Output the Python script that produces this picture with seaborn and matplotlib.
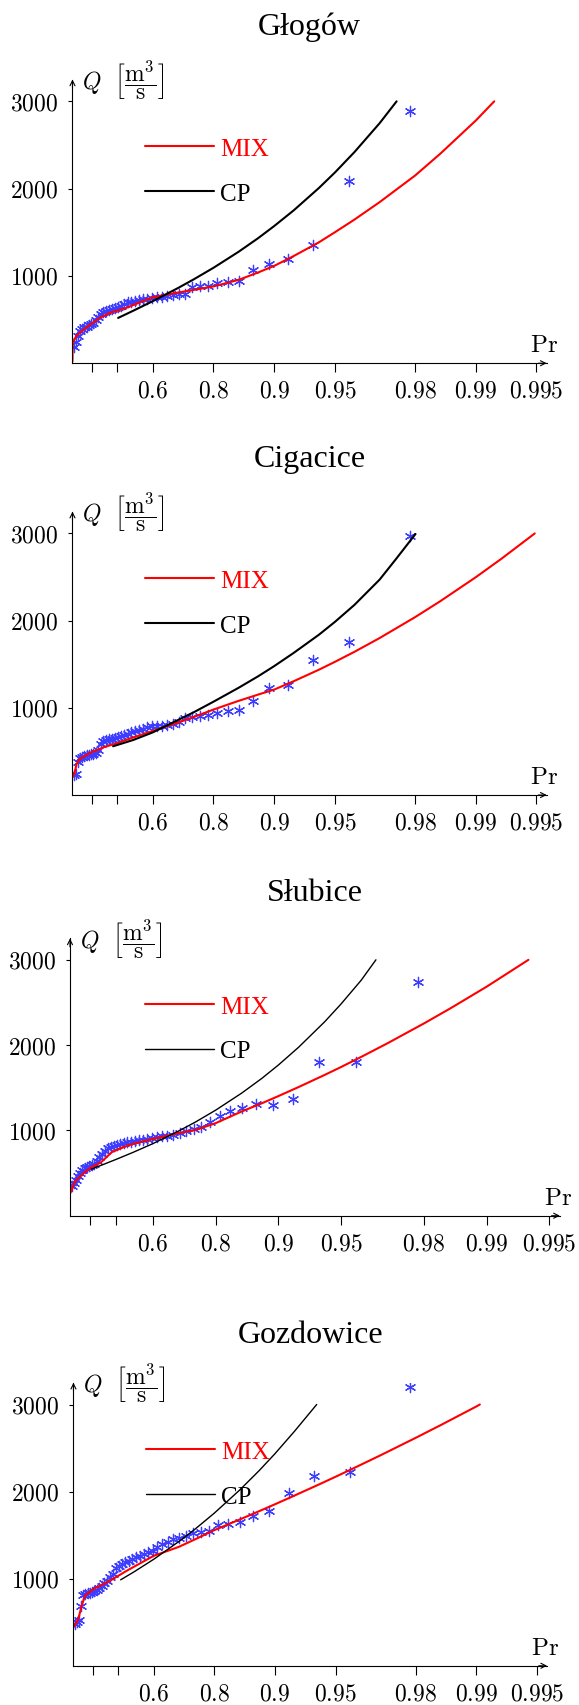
import numpy as np
import matplotlib
matplotlib.use("Agg")
import matplotlib.pyplot as plt
import seaborn as sns

stations = ["Głogów", "Cigacice", "Słubice", "Gozdowice"]

# plotting positions of the 46 observed annual maxima
obs_p = [0.0213, 0.0426, 0.0638, 0.0851, 0.1064, 0.1277, 0.1489, 0.1702, 0.1915, 0.2128,
         0.2340, 0.2553, 0.2766, 0.2979, 0.3191, 0.3404, 0.3617, 0.3830, 0.4043, 0.4255,
         0.4468, 0.4681, 0.4894, 0.5106, 0.5319, 0.5532, 0.5745, 0.5957, 0.6170, 0.6383,
         0.6596, 0.6809, 0.7021, 0.7234, 0.7447, 0.7660, 0.7872, 0.8085, 0.8298, 0.8511,
         0.8723, 0.8936, 0.9149, 0.9362, 0.9574, 0.9787]

glogow_q = [190, 240, 310, 370, 395, 410, 420, 435, 445, 460, 490, 527, 565, 584, 602, 610,
            622, 633, 649, 660, 679, 698, 706, 717, 725, 733, 740, 748, 756, 763, 771, 778,
            790, 793, 870, 881, 889, 916, 932, 946, 1068, 1141, 1199, 1355, 2090, 2890]
cigacice_q = [229, 245, 375, 420, 440, 450, 455, 460, 465, 470, 480, 520, 590, 620, 630, 640,
              648, 655, 665, 675, 690, 700, 718, 733, 746, 757, 776, 788, 790, 795, 803, 814,
              841, 880, 891, 910, 918, 940, 967, 979, 1082, 1224, 1265, 1552, 1751, 2974]
slubice_q = [352, 380, 420, 460, 505, 540, 560, 570, 580, 590, 610, 640, 690, 720, 760, 790,
             810, 822, 830, 840, 850, 860, 868, 878, 885, 893, 900, 910, 920, 930, 940, 950,
             969, 990, 1015, 1045, 1095, 1172, 1231, 1259, 1309, 1297, 1367, 1798, 1798, 2735]
gozdowice_q = [480, 500, 520, 690, 810, 820, 830, 840, 850, 861, 872, 889, 911, 949, 976, 1015,
               1053, 1118, 1148, 1168, 1187, 1206, 1225, 1244, 1263, 1282, 1302, 1321, 1359, 1397,
               1423, 1455, 1463, 1485, 1520, 1531, 1543, 1615, 1627, 1653, 1722, 1772, 1979, 2174,
               2227, 3196]

# fitted quantile curves (MIX = mixture model, CP = single distribution)
glogow_mix_p = [0, 0.002, 0.044, 0.148, 0.268, 0.347, 0.46, 0.6, 0.7, 0.75, 0.8, 0.85, 0.88,
                0.9, 0.92, 0.94, 0.95, 0.96, 0.97, 0.98, 0.985, 0.99, 0.9919]
glogow_mix_q = [20, 230, 316, 412, 520, 575, 635, 756, 810, 840, 880, 955, 1040, 1115, 1228,
                1385, 1500, 1645, 1845, 2150, 2400, 2780, 3000]
glogow_cp_p = [0.406, 0.5, 0.6, 0.7, 0.75, 0.8, 0.85, 0.88, 0.9, 0.92, 0.94, 0.95, 0.96, 0.97,
               0.9753]
glogow_cp_q = [519, 601, 711, 861, 962, 1093, 1277, 1433, 1571, 1751, 2007, 2184, 2418, 2749,
               3000]

cigacice_mix_p = [0, 0.026, 0.045, 0.080, 0.148, 0.2, 0.268, 0.3, 0.4, 0.5, 0.6, 0.7, 0.75,
                  0.8, 0.85, 0.88, 0.9, 0.92, 0.94, 0.95, 0.96, 0.97, 0.98, 0.985, 0.99,
                  0.9925, 0.9949]
cigacice_mix_q = [203, 260, 356, 413, 459, 495, 528, 548, 595, 660, 735, 830, 895, 980, 1080,
                  1152, 1209, 1305, 1437, 1527, 1642, 1800, 2040, 2223, 2498, 2706, 3000]
cigacice_cp_p = [0.371, 0.5, 0.6, 0.7, 0.75, 0.8, 0.85, 0.88, 0.9, 0.92, 0.94, 0.95, 0.96,
                 0.97, 0.975, 0.9801]
cigacice_cp_q = [559, 631, 718, 860, 950, 1070, 1230, 1362, 1478, 1630, 1838, 1985, 2180, 2470,
                 2700, 2994]

slubice_mix_p = [0, 0.008, 0.052, 0.15, 0.21, 0.29, 0.37, 0.453, 0.5, 0.6, 0.7, 0.75, 0.8,
                 0.85, 0.88, 0.9, 0.92, 0.94, 0.95, 0.96, 0.97, 0.98, 0.985, 0.99, 0.9937]
slubice_mix_q = [260, 274, 400, 509, 567, 626, 745, 810, 840, 899, 970, 1005, 1085, 1222, 1318,
                 1402, 1508, 1650, 1743, 1862, 2020, 2254, 2428, 2685, 3000]
slubice_cp_p = [0.21, 0.3, 0.4, 0.5, 0.6, 0.7, 0.75, 0.8, 0.85, 0.88, 0.9, 0.92, 0.94, 0.95,
                0.96, 0.966]
slubice_cp_q = [547, 596, 661, 741, 845, 995, 1098, 1237, 1437, 1610, 1766, 1974, 2272, 2482,
                2761, 3000]

gozdowice_mix_p = [0, 0.0535, 0.0897, 0.123, 0.202, 0.341, 0.456, 0.6, 0.7, 0.75, 0.8, 0.85,
                   0.88, 0.9, 0.92, 0.94, 0.95, 0.96, 0.97, 0.98, 0.985, 0.99, 0.9904]
gozdowice_mix_q = [441, 536, 689, 804, 880, 976, 1091, 1262, 1365, 1450, 1557, 1678, 1774, 1854,
                   1954, 2085, 2170, 2276, 2415, 2617, 2764, 2977, 3000]
gozdowice_cp_p = [0.417, 0.5, 0.6, 0.7, 0.75, 0.8, 0.85, 0.88, 0.9, 0.92, 0.938]
gozdowice_cp_q = [987, 1079, 1222, 1426, 1566, 1752, 2015, 2238, 2434, 2691, 3000]

x_ticks = [0.2, 0.4, 0.6, 0.8, 0.9, 0.95, 0.98, 0.99, 0.995]
x_ticklabels = ["", "", "$0.6$", "$0.8$", "$0.9$", "$0.95$", "$0.98$", "$0.99$", "$0.995$"]
y_ticks = [1000, 2000, 3000]
y_ticklabels = ["$1000$", "$2000$", "$3000$"]

obs_q = [glogow_q, cigacice_q, slubice_q, gozdowice_q]
mix_p = [glogow_mix_p, cigacice_mix_p, slubice_mix_p, gozdowice_mix_p]
mix_q = [glogow_mix_q, cigacice_mix_q, slubice_mix_q, gozdowice_mix_q]
cp_p = [glogow_cp_p, cigacice_cp_p, slubice_cp_p, gozdowice_cp_p]
cp_q = [glogow_cp_q, cigacice_cp_q, slubice_cp_q, gozdowice_cp_q]

# layout of the four panels (figure fractions) and small per-panel differences
rects = [[0.1252, 0.7865, 0.8190, 0.1663],
         [0.1252, 0.5334, 0.8190, 0.1661],
         [0.1209, 0.2868, 0.8461, 0.1625],
         [0.1269, 0.0230, 0.8180, 0.1659]]
title_pads = [33, 33, 27.5, 29.5]
cp_widths = [1.5, 1.5, 1.0, 1.0]
blue = "#3d3dff"

sns.set_style("white", rc={"axes.edgecolor": "black", "text.color": "black",
                           "xtick.color": "black", "ytick.color": "black",
                           "xtick.bottom": True, "ytick.left": True})
plt.rcParams["font.family"] = ["Liberation Serif", "DejaVu Serif"]
plt.rcParams["mathtext.fontset"] = "cm"


# probability axis: exponential paper, t = -ln(1 - p)
def fwd(p):
    return -np.log(np.clip(1 - np.asarray(p, dtype=float), 1e-9, None))


def inv(t):
    return 1 - np.exp(-np.asarray(t, dtype=float))


fig = plt.figure(figsize=(5.79, 17.06), dpi=100)

for k, name in enumerate(stations):
    ax = fig.add_axes(rects[k])
    sns.scatterplot(x=obs_p, y=obs_q[k], ax=ax, marker=(6, 2, 0), s=55, color=blue,
                    edgecolor=blue, linewidth=0.9, zorder=1)
    sns.lineplot(x=mix_p[k], y=mix_q[k], ax=ax, color="red", lw=1.5, label="MIX",
                 estimator=None, sort=False)
    sns.lineplot(x=cp_p[k], y=cp_q[k], ax=ax, color="black", lw=cp_widths[k], label="CP",
                 estimator=None, sort=False)

    ax.set_xscale("function", functions=(fwd, inv))
    ax.set_xlim(0, 0.99555)
    ax.set_ylim(0, 3250)
    ax.set_xticks(x_ticks)
    ax.set_xticklabels(x_ticklabels)
    ax.set_yticks(y_ticks)
    ax.set_yticklabels(y_ticklabels)
    ax.minorticks_off()
    ax.tick_params(axis="x", direction="out", length=6.5, width=0.8, pad=6, labelsize=17)
    ax.tick_params(axis="y", direction="out", length=3, width=0.8, pad=7, labelsize=17)
    ax.set_xlabel("")
    ax.set_ylabel("")
    ax.grid(False)

    sns.despine(ax=ax)
    for side in ["left", "bottom"]:
        ax.spines[side].set_linewidth(0.8)
    # arrow heads on the axes
    arrow = dict(arrowstyle="->", color="black", lw=0.8, shrinkA=0, shrinkB=0, mutation_scale=9)
    ax.annotate("", xy=(1, 0), xycoords="axes fraction", xytext=(-6, 0),
                textcoords="offset points", arrowprops=arrow)
    ax.annotate("", xy=(0, 1), xycoords="axes fraction", xytext=(0, -6),
                textcoords="offset points", arrowprops=arrow)

    ax.text(0.02, 1.0, r"$Q\ \ \left[\dfrac{\mathrm{m}^3}{\mathrm{s}}\right]$",
            transform=ax.transAxes, ha="left", va="center", fontsize=17)
    ax.text(1.025, 0.025, r"$\mathrm{Pr}$", transform=ax.transAxes, ha="right",
            va="bottom", fontsize=18)

    ax.set_title(name, fontsize=23, pad=title_pads[k])
    ax.legend(loc="upper left", bbox_to_anchor=(0.153, 0.796), frameon=False, fontsize=18,
              handlelength=2.75, handletextpad=0.25, labelspacing=0.89, borderpad=0,
              borderaxespad=0, labelcolor="linecolor")

fig.savefig("out.png", dpi=100)
